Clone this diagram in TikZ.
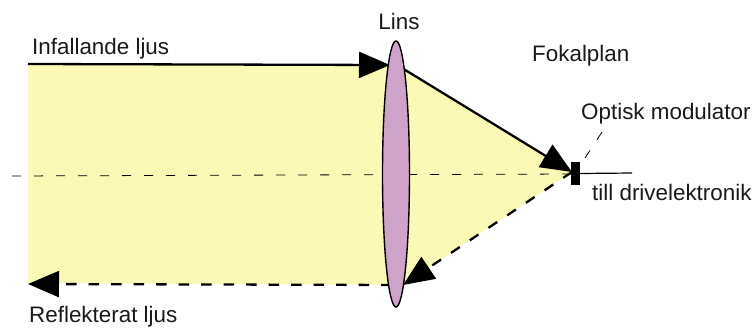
\documentclass[tikz,border=0pt]{standalone}
\usepackage{fontspec}
\setmainfont{Liberation Sans}
\usetikzlibrary{arrows.meta,shapes.geometric}
\definecolor{beam}{HTML}{FAF9B5}
\definecolor{lensfill}{HTML}{CFA3C9}
\tikzset{
  x=1pt,y=-1pt,
  lbl/.style={anchor=base west,inner sep=0pt,font=\fontsize{22.4}{25}\selectfont,text=black!90},
  ray/.style={line width=2.3pt,draw=black},
  dashray/.style={line width=2.3pt,draw=black,dash pattern=on 10.5pt off 12pt},
  bigtip/.style={-{Triangle[length=31pt,width=26pt]}},
  thindash/.style={line width=0.8pt,draw=black,dash pattern=on 9pt off 13pt},
}
\begin{document}
\begin{tikzpicture}
\useasboundingbox (0,0) rectangle (755,327);
\coordinate (inTL) at (28,64);
\coordinate (inTR) at (390,65);
\coordinate (outT) at (402,68);
\coordinate (focus) at (572,172);
\coordinate (outB) at (403,285);
\coordinate (refl) at (28,284);
\coordinate (axisL) at (12,176);
\coordinate (axisR) at (571,174);
\coordinate (wireR) at (632,173);
\coordinate (tickA) at (585,158);
\coordinate (tickB) at (604,129);
\fill[beam] (inTL) -- (inTR) -- (outT) -- (focus) -- (outB) -- (28,283) -- cycle;
\draw[ray,bigtip] (inTL) -- (inTR);
\draw[ray,bigtip] (outT) -- (focus);
\draw[dashray,bigtip] (focus) -- (outB);
\draw[dashray,bigtip,dash phase=11pt] (outB) -- (refl);
\draw[thindash] (axisL) -- (axisR);
\node[draw=black,line width=1.4pt,fill=lensfill,shape=ellipse,inner sep=0pt,minimum width=27pt,minimum height=266pt] (lens) at (396,174) {};
\node[fill=black,inner sep=0pt,minimum width=9pt,minimum height=23pt] (mod) at (575.5,173.5) {};
\draw[line width=1.2pt] (mod.east) -- (wireR);
\draw[thindash] (tickA) -- (tickB);
\node[lbl] (tInf) at (32,54) {Infallande ljus};
\node[lbl,anchor=base] (tLins) at (399,29) {Lins};
\node[lbl] (tFok) at (532,61) {Fokalplan};
\node[lbl] (tOpt) at (581,119) {Optisk modulator};
\node[lbl] (tTill) at (592,200) {till drivelektronik};
\node[lbl] (tRef) at (29,322) {Reflekterat ljus};
\end{tikzpicture}
\end{document}
